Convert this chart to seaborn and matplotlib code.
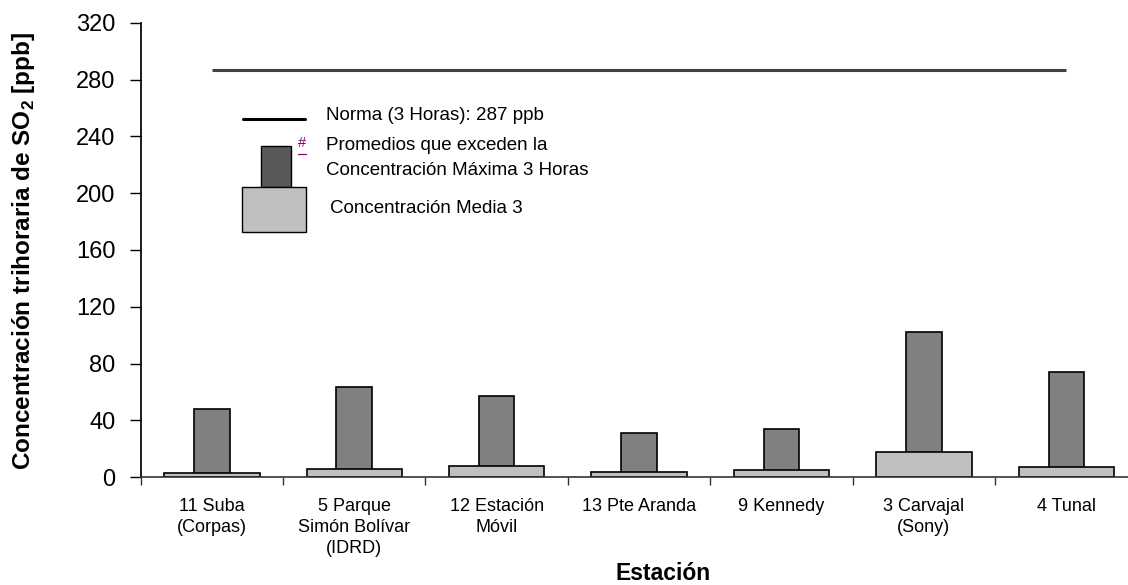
import pandas as pd
import matplotlib
matplotlib.use("Agg")
import matplotlib.pyplot as plt
import seaborn as sns
from matplotlib.patches import Rectangle
from matplotlib.ticker import FixedLocator

# datos
estaciones = [
    "11 Suba\n(Corpas)",
    "5 Parque\nSimón Bolívar\n(IDRD)",
    "12 Estación\nMóvil",
    "13 Pte Aranda",
    "9 Kennedy",
    "3 Carvajal\n(Sony)",
    "4 Tunal",
]
maxima_3h = [47.8, 63.5, 57.0, 31.0, 33.5, 102.0, 74.0]
media_3h = [2.8, 5.3, 7.7, 3.4, 4.6, 17.5, 6.8]
norma = 287
y_ticks = [0, 40, 80, 120, 160, 200, 240, 280, 320]

df = pd.DataFrame({"estacion": estaciones, "maxima": maxima_3h, "media": media_3h})

sns.set_theme(style="ticks")
plt.rcParams["font.family"] = ["Liberation Sans", "DejaVu Sans"]
plt.rcParams["mathtext.fontset"] = "custom"
plt.rcParams["mathtext.rm"] = "Liberation Sans"
plt.rcParams["mathtext.bf"] = "Liberation Sans:bold"
plt.rcParams["text.color"] = "black"
plt.rcParams["axes.labelcolor"] = "black"
plt.rcParams["xtick.color"] = "black"
plt.rcParams["ytick.color"] = "black"

fig = plt.figure(figsize=(11.28, 5.85), dpi=100)
ax = fig.add_axes([0.1247, 0.1846, 0.8753, 0.7761])

# barra angosta = maxima, barra ancha = media (encima)
sns.barplot(data=df, x="estacion", y="maxima", color="#808080", saturation=1,
            width=0.25, edgecolor="black", linewidth=1.2, ax=ax)
sns.barplot(data=df, x="estacion", y="media", color="#c0c0c0", saturation=1,
            width=0.67, edgecolor="black", linewidth=1.2, ax=ax)

# norma 3 horas
ax.hlines(norma, 0, len(estaciones) - 1, color="#404040", lw=2.2, zorder=3)

ax.set_ylim(0, 320)
ax.set_xlim(-0.5, 6.433)
ax.set_yticks(y_ticks)
ax.tick_params(axis="y", direction="out", length=8, width=1, color="black",
               labelsize=17, pad=10)
ax.tick_params(axis="x", which="major", length=0, labelsize=13, pad=15)
ax.xaxis.set_minor_locator(FixedLocator([i + 0.5 for i in range(-1, len(estaciones))]))
ax.tick_params(axis="x", which="minor", direction="out", length=6, width=1, color="#333333")
for lbl in ax.get_xticklabels():
    lbl.set_linespacing(1.3)

sns.despine(ax=ax)
ax.spines["left"].set_color("black")
ax.spines["bottom"].set_color("#333333")
ax.spines["bottom"].set_linewidth(1.2)

ax.set_xlabel("Estación", fontsize=16.5, fontweight="bold")
ax.xaxis.set_label_coords(0.529, -0.187)
ax.set_ylabel("Concentración trihoraria de SO$_\\mathbf{2}$ [ppb]", fontsize=17.5,
              fontweight="bold")
ax.yaxis.set_label_coords(-0.105, 0.499)

# leyenda dibujada a mano
tr = ax.transAxes
fs_ley = 13.5
ax.plot([0.1033, 0.1664], [0.788, 0.788], color="black", lw=2.2, transform=tr, clip_on=False)
ax.text(0.1877, 0.797, "Norma (3 Horas): 287 ppb", fontsize=fs_ley, va="center", transform=tr)
ax.add_patch(Rectangle((0.1219, 0.639), 0.030, 0.090, facecolor="#595959",
                       edgecolor="black", lw=1, transform=tr, clip_on=False))
ax.add_patch(Rectangle((0.1023, 0.540), 0.0652, 0.099, facecolor="#c0c0c0",
                       edgecolor="black", lw=1, transform=tr, clip_on=False))
ax.text(0.1634, 0.735, "#", fontsize=10.5, color="#800080", ha="center", va="center",
        transform=tr)
ax.plot([0.1595, 0.1673], [0.712, 0.712], color="#800080", lw=0.9, transform=tr)
ax.text(0.188, 0.731, "Promedios que exceden la", fontsize=fs_ley, va="center", transform=tr)
ax.text(0.188, 0.676, "Concentración Máxima 3 Horas", fontsize=fs_ley, va="center", transform=tr)
ax.text(0.1917, 0.5925, "Concentración Media 3", fontsize=fs_ley, va="center", transform=tr)

fig.savefig("out.png", dpi=100)
